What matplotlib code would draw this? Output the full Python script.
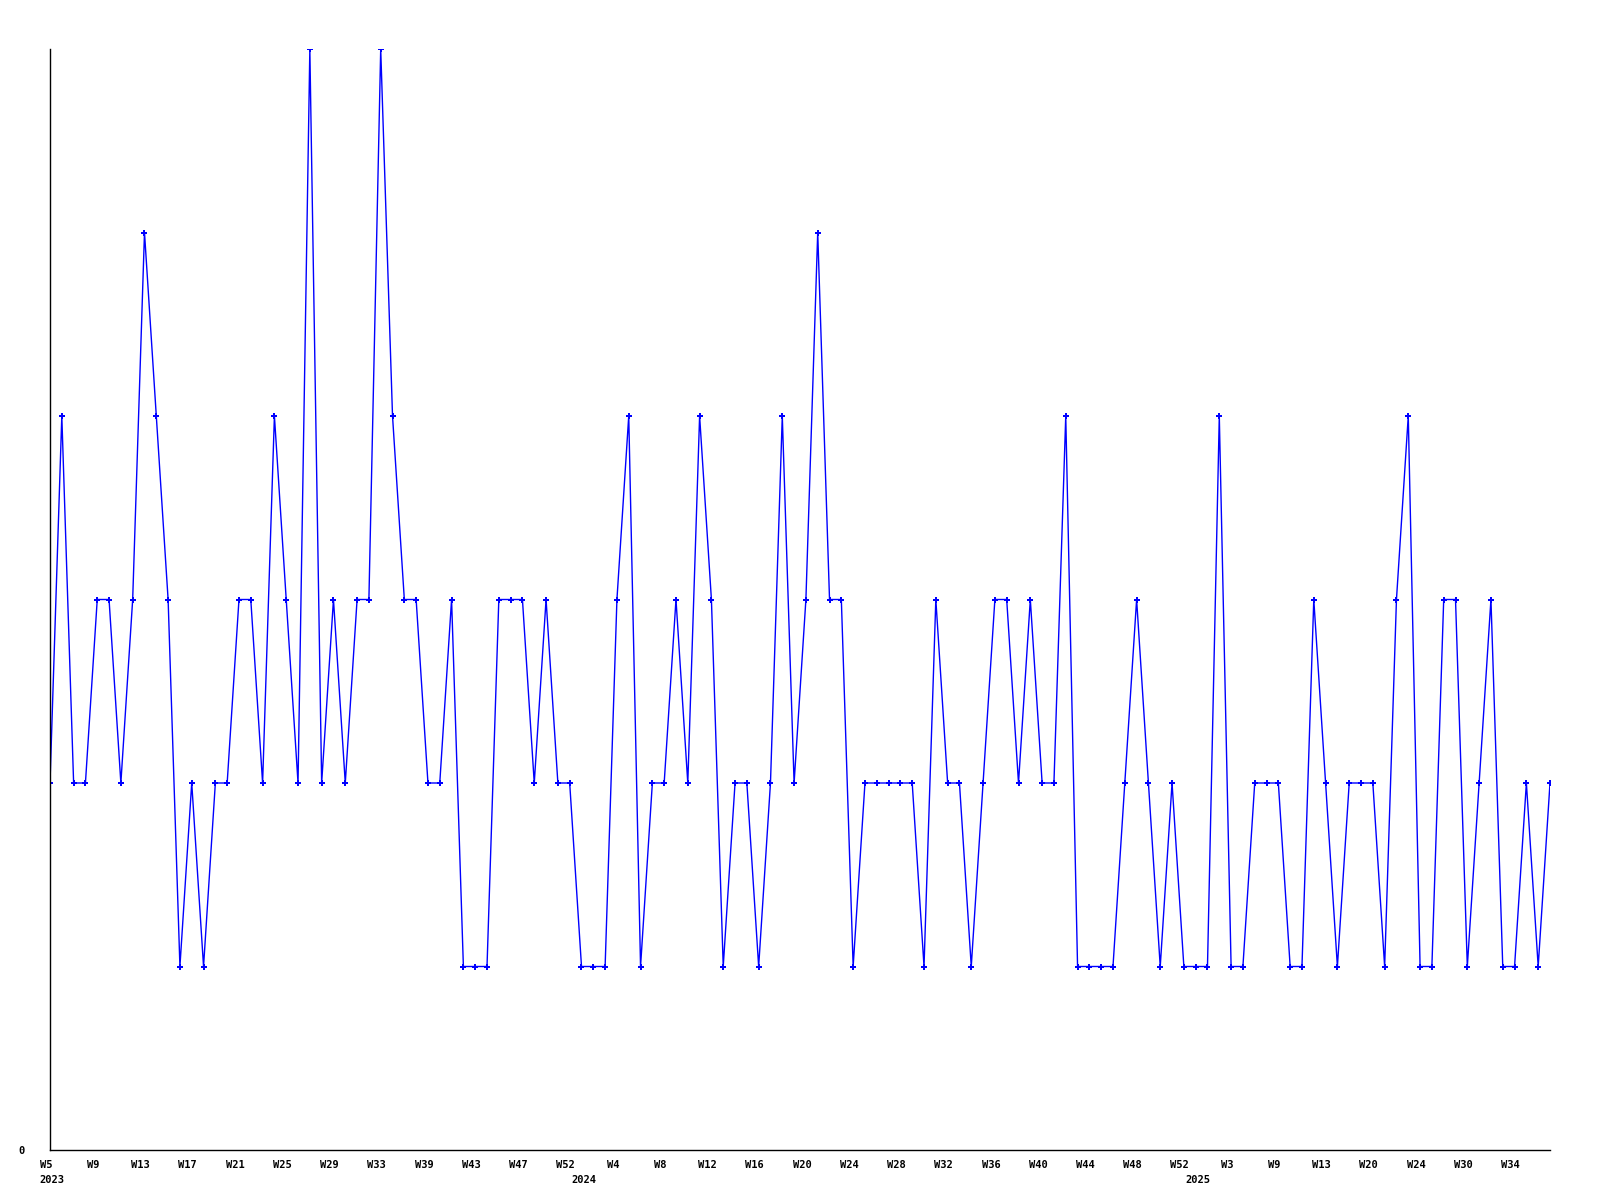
import matplotlib
matplotlib.use("Agg")
import matplotlib.pyplot as plt
import matplotlib.transforms as mtransforms

# weekly counts, one point per week in the data
values = [2, 4, 2, 2, 3, 3, 2, 3, 5, 4,
          3, 1, 2, 1, 2, 2, 3, 3, 2, 4,
          3, 2, 6, 2, 3, 2, 3, 3, 6, 4,
          3, 3, 2, 2, 3, 1, 1, 1, 3, 3,
          3, 2, 3, 2, 2, 1, 1, 1, 3, 4,
          1, 2, 2, 3, 2, 4, 3, 1, 2, 2,
          1, 2, 4, 2, 3, 5, 3, 3, 1, 2,
          2, 2, 2, 2, 1, 3, 2, 2, 1, 2,
          3, 3, 2, 3, 2, 2, 4, 1, 1, 1,
          1, 2, 3, 2, 1, 2, 1, 1, 1, 4,
          1, 1, 2, 2, 2, 1, 1, 3, 2, 1,
          2, 2, 2, 1, 3, 4, 1, 1, 3, 3,
          1, 2, 3, 1, 1, 2, 1, 2]

# every 4th week is labelled
tick_labels = ["W5", "W9", "W13", "W17", "W21", "W25", "W29", "W33",
               "W39", "W43", "W47", "W52", "W4", "W8", "W12", "W16",
               "W20", "W24", "W28", "W32", "W36", "W40", "W44", "W48",
               "W52", "W3", "W9", "W13", "W20", "W24", "W30", "W34"]

years = ["2023", "2024", "2025"]
year_pos = [0, 45, 97]

x = list(range(len(values)))

fig = plt.figure(figsize=(16, 12), dpi=100)
ax = fig.add_axes([50 / 1600, 50 / 1200, 1500 / 1600, 1101 / 1200])

ax.plot(x, values, color="#0000FF", lw=1, marker="P", ms=4, mew=0)

ax.set_xlim(0, len(values) - 1)
ax.set_ylim(0, 6)

for s in ["top", "right"]:
    ax.spines[s].set_visible(False)
ax.spines["left"].set_linewidth(1)
ax.spines["bottom"].set_linewidth(1)

font = dict(family="DejaVu Sans Mono", weight="bold", size=7.5)

ax.set_xticks(x[::4])
ax.set_xticklabels(tick_labels, **font)
ax.set_yticks([0])
ax.set_yticklabels(["0"], **font)
ax.tick_params(axis="x", length=0, pad=7)
ax.tick_params(axis="y", length=0, pad=18)

# nudge week labels a little to the left, like the original
shift = mtransforms.ScaledTranslation(-4 / 100, 0, fig.dpi_scale_trans)
for lbl in ax.get_xticklabels():
    lbl.set_transform(lbl.get_transform() + shift)

# year under the first week of each year
for yr, pos in zip(years, year_pos):
    ax.annotate(yr, xy=(pos, 0), xycoords=("data", "axes fraction"),
                xytext=(2, -25), textcoords="offset pixels",
                ha="center", va="top", **font)

plt.savefig("out.png", dpi=100)
